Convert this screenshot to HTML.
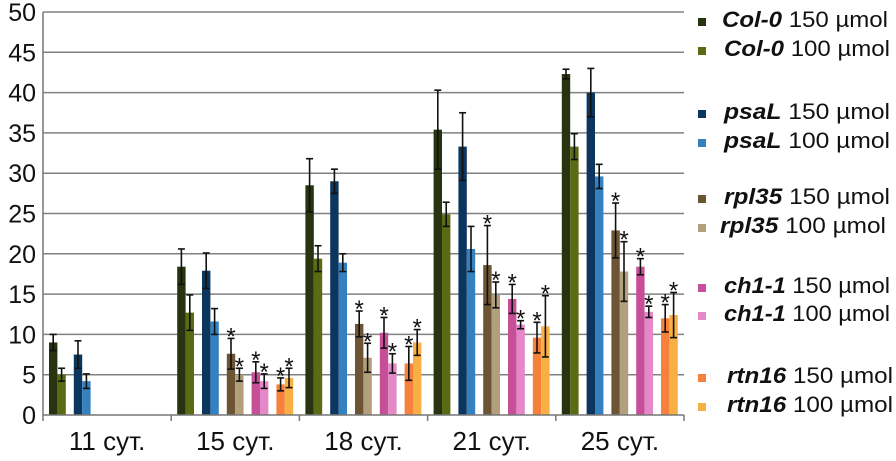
<!DOCTYPE html>
<html><head><meta charset="utf-8"><style>
body{margin:0;background:#fff;width:896px;height:456px;overflow:hidden;font-family:"Liberation Sans",sans-serif}
</style></head><body>
<svg id="chart" width="896" height="456" xmlns="http://www.w3.org/2000/svg">
<g id="grid"></g>
<g id="bars"></g>
<g id="axes"></g>
<g id="legend"></g>
</svg>
<script>
const categories=["11 сут.","15 сут.","18 сут.","21 сут.","25 сут."];
const seriesNames=["Col-0","Col-0","psaL","psaL","rpl35","rpl35","ch1-1","ch1-1","rtn16","rtn16"];
const seriesDose=["150 µmol","100 µmol","150 µmol","100 µmol","150 µmol","100 µmol","150 µmol","100 µmol","150 µmol","100 µmol"];
const colors=["#28330f","#5c6a14","#0c365e","#3580bf","#6c5434","#b29f7c","#c64f98","#e488c9","#f6813c","#f8b044"];
const col150=[9.0,18.4,28.5,35.4,42.3], col150e=[1.0,2.2,3.3,4.9,0.6];
const col100=[5.0,12.7,19.4,24.9,33.3], col100e=[0.8,2.2,1.6,1.5,1.6];
const psa150=[7.5,17.9,29.0,33.3,40.0], psa150e=[1.7,2.2,1.5,4.2,3.0];
const psa100=[4.2,11.6,18.9,20.6,29.6], psa100e=[0.9,1.6,1.1,2.8,1.5];
const rpl150=[0,7.6,11.3,18.6,22.9], rpl150e=[0,1.9,1.6,4.9,3.4];
const rpl100=[0,5.0,7.1,14.9,17.8], rpl100e=[0,0.8,1.8,1.6,3.7];
const ch150=[0,5.3,10.2,14.4,18.4], ch150e=[0,1.3,1.9,1.8,1.0];
const ch100=[0,4.2,6.4,11.2,12.8], ch100e=[0,0.9,1.2,0.5,0.7];
const rtn150=[0,3.8,6.4,9.6,12.0], rtn150e=[0,0.8,2.1,1.9,1.7];
const rtn100=[0,4.6,9.0,11.0,12.4], rtn100e=[0,1.2,1.6,3.8,2.8];
const yTicks=[0,5,10,15,20,25,30,35,40,45,50];
const values=[col150,col100,psa150,psa100,rpl150,rpl100,ch150,ch100,rtn150,rtn100];
const errs=[col150e,col100e,psa150e,psa100e,rpl150e,rpl100e,ch150e,ch100e,rtn150e,rtn100e];
const NS="http://www.w3.org/2000/svg";
const X0=43,X1=684,Y0=415,Y1=12,GW=(X1-X0)/categories.length;
const y=v=>Y0-(v/50)*(Y0-Y1);
const bx=(g,s)=>X0+g*GW+6+Math.floor(s/2)*24.8+(s%2)*8.4;
function el(t,a,p){const e=document.createElementNS(NS,t);for(const k in a)e.setAttribute(k,a[k]);p.appendChild(e);return e;}
const grid=document.getElementById('grid'),bars=document.getElementById('bars'),axes=document.getElementById('axes'),legend=document.getElementById('legend');
yTicks.forEach(t=>{
 if(t>0){const l=el('line',{x1:X0,x2:X1,y1:y(t),y2:y(t),stroke:'#808080','stroke-width':1.5},grid);
 
 }
 const tx=el('text',{x:36,y:y(t)+9,'text-anchor':'end','font-size':25,fill:'#111'},axes);tx.textContent=t;
 
 
});
el('line',{x1:X0,x2:X0,y1:Y1,y2:Y0,stroke:'#777','stroke-width':1.5},axes);
el('line',{x1:X0,x2:X1,y1:Y0,y2:Y0,stroke:'#777','stroke-width':1.5},axes);
categories.forEach((c,g)=>{
 el('line',{x1:X0+g*GW,x2:X0+g*GW,y1:Y0,y2:Y0+6,stroke:'#777','stroke-width':1.5},axes);
 const tx=el('text',{x:X0+(g+0.5)*GW,y:450,'text-anchor':'middle','font-size':26,fill:'#111'},axes);tx.textContent=c;
 
 
});
el('line',{x1:X1,x2:X1,y1:Y0,y2:Y0+6,stroke:'#777','stroke-width':1.5},axes);
values.forEach((vals,s)=>{
 vals.forEach((v,g)=>{
  if(v<=0)return;
  const x=bx(g,s);
  const r=el('rect',{x:x,y:y(v),width:8.4,height:Y0-y(v),fill:colors[s]},bars);
  
  
  const e=errs[s][g],cx=x+4.2;
  el('line',{x1:cx,x2:cx,y1:y(v+e),y2:y(v-e),stroke:'#111','stroke-width':1.6},bars);
  el('line',{x1:cx-3.5,x2:cx+3.5,y1:y(v+e),y2:y(v+e),stroke:'#111','stroke-width':1.6},bars);
  el('line',{x1:cx-3.5,x2:cx+3.5,y1:y(v-e),y2:y(v-e),stroke:'#111','stroke-width':1.6},bars);
  if(s>=4&&g>=1){const a=el('text',{x:cx,y:y(v+e)+6,'text-anchor':'middle','font-size':24,fill:'#111'},bars);a.textContent='*';
   
   }
 });
});
const legY=[19,48,111,140,196,225,285,313,375,404];
const legX=[722,724,724,724,724,720,724,724,727,727];
seriesNames.forEach((n,i)=>{
 const g=el('g',{},legend);
 
 
 el('rect',{x:698,y:legY[i]-1,width:8,height:8,fill:colors[i]},g);
 const t=el('text',{x:legX[i],y:legY[i]+8,'font-size':22,fill:'#111',textLength:166,lengthAdjust:'spacingAndGlyphs'},g);
 const b=document.createElementNS(NS,'tspan');b.setAttribute('font-weight','bold');b.setAttribute('font-style','italic');b.textContent=n;t.appendChild(b);
 t.appendChild(document.createTextNode(' '+seriesDose[i]));
});
</script>
</body></html>
